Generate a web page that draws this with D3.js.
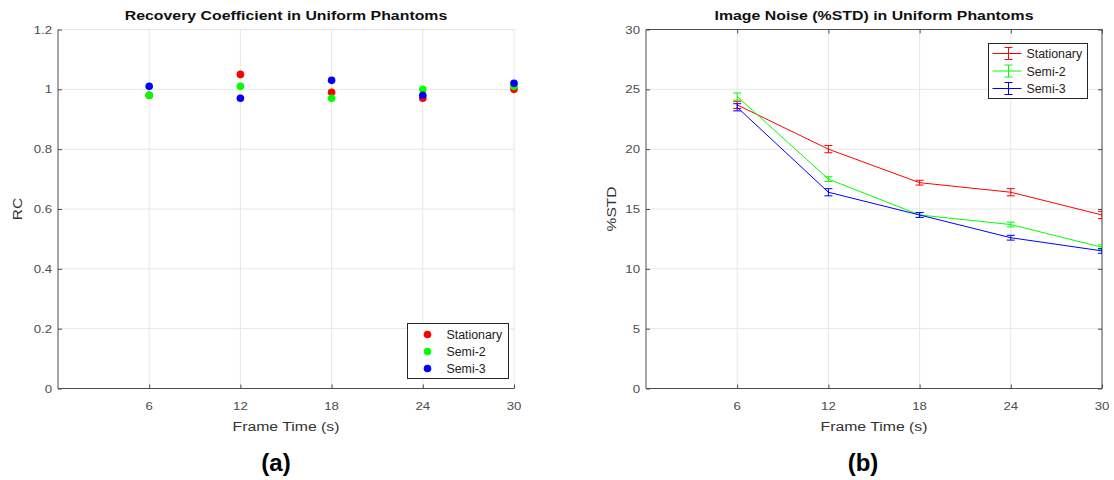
<!DOCTYPE html>
<html>
<head>
<meta charset="utf-8">
<script src="https://cdn.jsdelivr.net/npm/d3@7"></script>
<style>
  body { margin: 0; background: #fff; }
  svg text { font-family: "Liberation Sans", Arial, sans-serif; }
</style>
</head>
<body>
<svg id="chart" width="1114" height="480"></svg>
<script>
// frame times (x)
const frameTimes = [6, 12, 18, 24, 30];
const seriesNames = ['Stationary', 'Semi-2', 'Semi-3'];
const seriesColors = ['#ff0000', '#00ff00', '#0000ff'];

// (a) recovery coefficient
const rcStationary = [0.98, 1.05, 0.99, 0.97, 1.00];
const rcSemi2 = [0.98, 1.01, 0.97, 1.00, 1.01];
const rcSemi3 = [1.01, 0.97, 1.03, 0.98, 1.02];
const rcTicks = [0, 0.2, 0.4, 0.6, 0.8, 1, 1.2];

// (b) image noise %STD with error
const stdStationary = [23.7, 20.0, 17.2, 16.4, 14.5];
const stdSemi2 = [24.4, 17.5, 14.5, 13.7, 11.8];
const stdSemi3 = [23.5, 16.4, 14.5, 12.6, 11.5];
const errStationary = [0.3, 0.3, 0.2, 0.3, 0.3];
const errSemi2 = [0.3, 0.2, 0.2, 0.2, 0.2];
const errSemi3 = [0.3, 0.3, 0.2, 0.2, 0.2];
const stdTicks = [0, 5, 10, 15, 20, 25, 30];

const svg = d3.select('#chart');
const axisColor = '#4d4d4d';
const gridColor = '#e6e6e6';
const plotTop = 29.5, plotBottom = 388.5;
const stretch = 1.15; // the reference text is a bit wider than it is tall

// text placed with a horizontal stretch
function wideText(sel, x, y, sx) {
  return sel.attr('transform', `translate(${x},${y}) scale(${sx},1)`);
}

function panel(left, right, yDomain, yTicks, title, yLabel, yLabelX, boxOn, id) {
  const x = d3.scaleLinear().domain([0, 30]).range([left, right]);
  const y = d3.scaleLinear().domain(yDomain).range([plotBottom, plotTop]);
  const g = svg.append('g');

  // grid
  g.append('g').selectAll('line').data(frameTimes).join('line')
    .attr('x1', d => x(d)).attr('x2', d => x(d))
    .attr('y1', plotTop).attr('y2', plotBottom)
    .attr('stroke', gridColor);
  g.append('g').selectAll('line').data(yTicks).join('line')
    .attr('x1', left).attr('x2', right)
    .attr('y1', d => y(d)).attr('y2', d => y(d))
    .attr('stroke', gridColor);

  // axes (ticks inward, like matlab)
  const xAxis = g.append('g').attr('transform', `translate(0,${plotBottom})`)
    .call(d3.axisTop(x).tickValues(frameTimes).tickSize(4).tickFormat(''));
  const yAxis = g.append('g').attr('transform', `translate(${left},0)`)
    .call(d3.axisRight(y).tickValues(yTicks).tickSize(4).tickFormat(''));
  [xAxis, yAxis].forEach(a => {
    a.selectAll('.domain').attr('stroke', axisColor);
    a.selectAll('.tick line').attr('stroke', axisColor);
  });
  xAxis.select('.domain').attr('d', `M${left},0H${right}`);
  yAxis.select('.domain').attr('d', `M0,${plotBottom}V${plotTop}`);

  if (boxOn) {
    const tAxis = g.append('g').attr('transform', `translate(0,${plotTop})`)
      .call(d3.axisBottom(x).tickValues(frameTimes).tickSize(4).tickFormat(''));
    const rAxis = g.append('g').attr('transform', `translate(${right},0)`)
      .call(d3.axisLeft(y).tickValues(yTicks).tickSize(4).tickFormat(''));
    [tAxis, rAxis].forEach(a => {
      a.selectAll('.domain').attr('stroke', axisColor);
      a.selectAll('.tick line').attr('stroke', axisColor);
    });
    tAxis.select('.domain').attr('d', `M${left},0H${right}`);
    rAxis.select('.domain').attr('d', `M0,${plotBottom}V${plotTop}`);
  }

  // tick labels
  g.append('g').selectAll('text').data(frameTimes).join('text')
    .attr('transform', d => `translate(${x(d)},${plotBottom + 21}) scale(${stretch},1)`)
    .attr('text-anchor', 'middle').attr('font-size', 11.5).attr('fill', axisColor)
    .text(d => d);
  g.append('g').selectAll('text').data(yTicks).join('text')
    .attr('transform', d => `translate(${left - 6},${y(d) + 4}) scale(${stretch},1)`)
    .attr('text-anchor', 'end').attr('font-size', 11.5).attr('fill', axisColor)
    .text(d => d);

  // titles
  wideText(g.append('text'), (left + right) / 2, 20, 1.22)
    .attr('text-anchor', 'middle').attr('font-size', 13).attr('font-weight', 'bold')
    .attr('fill', '#111').text(title);
  wideText(g.append('text'), (left + right) / 2, 431, 1.17)
    .attr('text-anchor', 'middle').attr('font-size', 13.5).attr('fill', '#333')
    .text('Frame Time (s)');
  g.append('text')
    .attr('transform', `translate(${yLabelX},${(plotTop + plotBottom) / 2}) rotate(-90) scale(1.15,1)`)
    .attr('text-anchor', 'middle').attr('font-size', 13.5).attr('fill', '#333')
    .text(yLabel);

  // clip
  svg.append('clipPath').attr('id', id).append('rect')
    .attr('x', left).attr('y', plotTop).attr('width', right - left).attr('height', plotBottom - plotTop);

  return { g, x, y };
}

// ---- (a)
const a = panel(58, 514, [0, 1.2], rcTicks, 'Recovery Coefficient in Uniform Phantoms', 'RC', 22, false, 'clipA');
const rcSeries = [rcStationary, rcSemi2, rcSemi3];
rcSeries.forEach((vals, i) => {
  a.g.append('g').selectAll('circle').data(vals).join('circle')
    .attr('cx', (d, j) => a.x(frameTimes[j]))
    .attr('cy', d => a.y(d))
    .attr('r', 3.8)
    .attr('fill', seriesColors[i]);
});

// legend (a)
const legA = a.g.append('g').attr('transform', 'translate(407.5,323.5)');
legA.append('rect').attr('width', 101).attr('height', 55)
  .attr('fill', '#fff').attr('stroke', '#262626');
seriesNames.forEach((name, i) => {
  legA.append('circle').attr('cx', 20).attr('cy', 11 + i * 17).attr('r', 3.8)
    .attr('fill', seriesColors[i]);
  wideText(legA.append('text'), 39, 15.5 + i * 17, 1.03)
    .attr('font-size', 12).attr('fill', '#222').text(name);
});

// ---- (b)
const b = panel(646, 1102, [0, 30], stdTicks, 'Image Noise (%STD) in Uniform Phantoms', '%STD', 616, true, 'clipB');
const stdSeries = [stdStationary, stdSemi2, stdSemi3];
const errSeries = [errStationary, errSemi2, errSemi3];
const plotB = b.g.append('g').attr('clip-path', 'url(#clipB)');
const line = d3.line().x((d, j) => b.x(frameTimes[j])).y(d => b.y(d));
stdSeries.forEach((vals, i) => {
  const s = plotB.append('g').attr('stroke', seriesColors[i]).attr('fill', 'none');
  s.append('path').attr('d', line(vals)).attr('stroke-width', 1);
  const eb = s.selectAll('g.eb').data(vals).join('g').attr('class', 'eb');
  eb.append('line')
    .attr('x1', (d, j) => b.x(frameTimes[j])).attr('x2', (d, j) => b.x(frameTimes[j]))
    .attr('y1', (d, j) => b.y(d - errSeries[i][j])).attr('y2', (d, j) => b.y(d + errSeries[i][j]));
  [-1, 1].forEach(sgn => {
    eb.append('line')
      .attr('x1', (d, j) => b.x(frameTimes[j]) - 4).attr('x2', (d, j) => b.x(frameTimes[j]) + 4)
      .attr('y1', (d, j) => b.y(d + sgn * errSeries[i][j]))
      .attr('y2', (d, j) => b.y(d + sgn * errSeries[i][j]));
  });
});

// legend (b)
const legB = b.g.append('g').attr('transform', 'translate(988.5,43.5)');
legB.append('rect').attr('width', 99).attr('height', 55)
  .attr('fill', '#fff').attr('stroke', '#262626');
seriesNames.forEach((name, i) => {
  const cy = 10 + i * 17.5;
  const lg = legB.append('g').attr('stroke', seriesColors[i]);
  lg.append('line').attr('x1', 4).attr('x2', 33).attr('y1', cy).attr('y2', cy);
  lg.append('line').attr('x1', 20).attr('x2', 20).attr('y1', cy - 6).attr('y2', cy + 6);
  lg.append('line').attr('x1', 16).attr('x2', 24).attr('y1', cy - 6).attr('y2', cy - 6);
  lg.append('line').attr('x1', 16).attr('x2', 24).attr('y1', cy + 6).attr('y2', cy + 6);
  wideText(legB.append('text'), 38, cy + 4.5, 1.03)
    .attr('font-size', 12).attr('fill', '#222').text(name);
});

// panel letters
svg.append('text').attr('x', 276).attr('y', 471).attr('text-anchor', 'middle')
  .attr('font-family', 'Lato, "Open Sans", sans-serif')
  .attr('font-size', 24).attr('font-weight', 'bold').text('(a)');
svg.append('text').attr('x', 863).attr('y', 471).attr('text-anchor', 'middle')
  .attr('font-family', 'Lato, "Open Sans", sans-serif')
  .attr('font-size', 24).attr('font-weight', 'bold').text('(b)');
</script>
</body>
</html>
